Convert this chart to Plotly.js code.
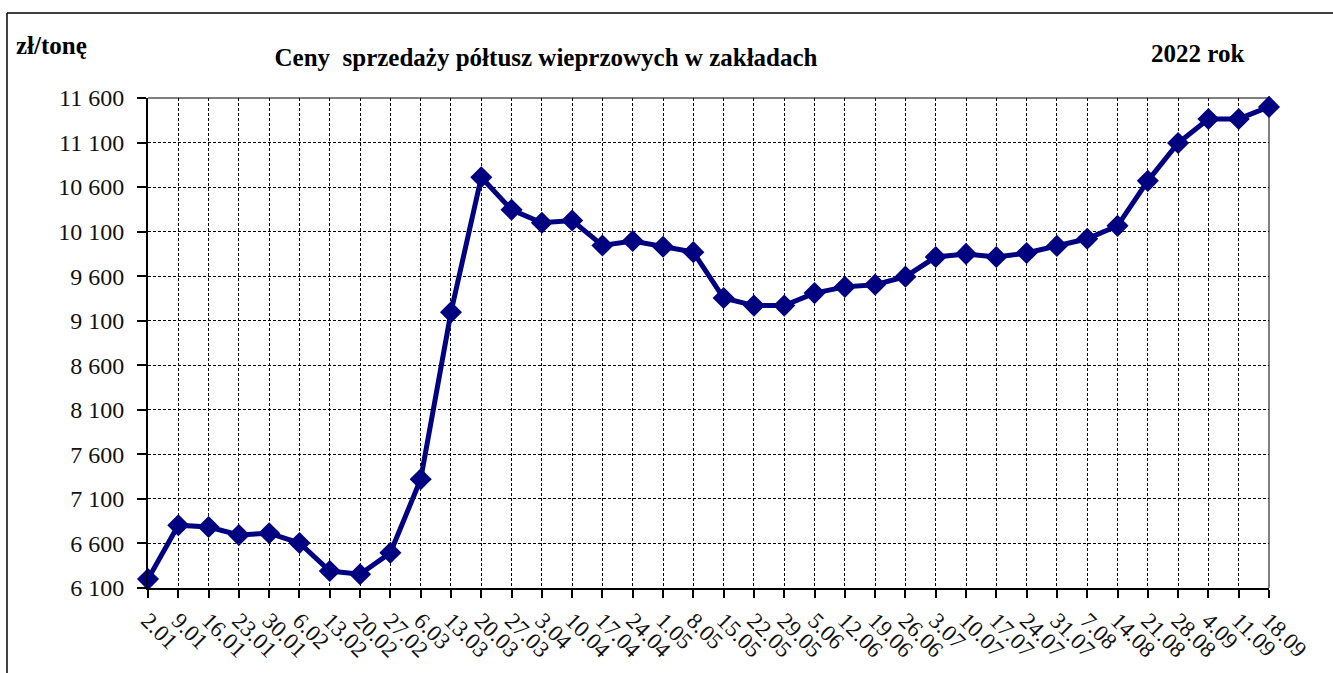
<!DOCTYPE html>
<html>
<head>
<meta charset="utf-8">
<script src="https://cdn.plot.ly/plotly-3.0.1.min.js"></script>
<style>body{margin:0;padding:0;background:#fff;}#chart{width:1333px;height:673px;}</style>
</head>
<body>
<div id="chart"></div>
<script>
const dates = ["2.01","9.01","16.01","23.01","30.01","6.02","13.02","20.02","27.02","6.03","13.03","20.03","27.03","3.04","10.04","17.04","24.04","1.05","8.05","15.05","22.05","29.05","5.06","12.06","19.06","26.06","3.07","10.07","17.07","24.07","31.07","7.08","14.08","21.08","28.08","4.09","11.09","18.09"];
const prices = [6200,6805,6785,6695,6715,6605,6290,6255,6495,7320,9195,10710,10345,10200,10225,9945,9995,9930,9870,9355,9270,9270,9410,9480,9505,9595,9815,9850,9815,9860,9940,10020,10165,10670,11095,11365,11365,11500];
const yTicks = [6100,6600,7100,7600,8100,8600,9100,9600,10100,10600,11100,11600];

const serif = "'Times New Roman', 'Liberation Serif', serif";
const trace = {
  x: dates, y: prices, type: 'scatter', mode: 'lines+markers',
  line: {color: '#000080', width: 5},
  marker: {symbol: 'diamond', size: 17, color: '#000080'},
  cliponaxis: false, hoverinfo: 'skip'
};
const layout = {
  width: 1333, height: 673,
  margin: {l: 148, r: 64, t: 98, b: 85},
  paper_bgcolor: '#fff', plot_bgcolor: '#fff',
  separators: ', ',
  showlegend: false,
  font: {family: serif, color: '#000', size: 22},
  title: {text: '<b>Ceny  sprzedaży półtusz wieprzowych w zakładach</b>', font: {family: serif, size: 25, color: '#000'}, x: 546/1333, xref: 'container', xanchor: 'center', y: 1 - 57/673, yref: 'container', yanchor: 'middle'},
  xaxis: {
    type: 'category', range: [0, dates.length - 1],
    tickangle: 45, tickfont: {family: serif, size: 23, color: '#111'},
    showgrid: true, gridcolor: '#000', gridwidth: 1, griddash: '3px,2px',
    showline: true, linecolor: '#000', linewidth: 2,
    ticks: 'outside', ticklen: 8, tickwidth: 2, tickcolor: '#000',
    zeroline: false, fixedrange: true
  },
  yaxis: {
    range: [6100, 11600], tickvals: yTicks, tickformat: ',d',
    tickfont: {family: serif, size: 24, color: '#111'},
    showgrid: true, gridcolor: '#000', gridwidth: 1, griddash: '3px,2px',
    showline: true, linecolor: '#000', linewidth: 2,
    ticks: 'outside', ticklen: 9, tickwidth: 2, tickcolor: '#000',
    ticklabelstandoff: 8,
    zeroline: false, fixedrange: true
  },
  shapes: [
    {type: 'line', xref: 'paper', yref: 'paper', x0: 0, x1: 1, y0: 1, y1: 1, line: {color: '#808080', width: 2}, layer: 'below'},
    {type: 'line', xref: 'paper', yref: 'paper', x0: 1, x1: 1, y0: 0, y1: 1, line: {color: '#808080', width: 2}, layer: 'below'},
    {type: 'line', xref: 'paper', yref: 'paper', x0: (7-148)/1121, x1: (7-148)/1121, y0: -85/490, y1: (588-13)/490, line: {color: '#000', width: 1.5}},
    {type: 'line', xref: 'paper', yref: 'paper', x0: (7-148)/1121, x1: (1333-148)/1121, y0: (588-13)/490, y1: (588-13)/490, line: {color: '#000', width: 1.5}}
  ],
  annotations: [
    {text: '<b>zł/tonę</b>', xref: 'paper', yref: 'paper', x: (14-148)/1121, y: (588-45)/490, xanchor: 'left', yanchor: 'middle', showarrow: false, font: {family: serif, size: 25, color: '#000'}},
    {text: '<b>2022 rok</b>', xref: 'paper', yref: 'paper', x: (1197-148)/1121, y: (588-53)/490, xanchor: 'center', yanchor: 'middle', showarrow: false, font: {family: serif, size: 25, color: '#000'}}
  ]
};
Plotly.newPlot('chart', [trace], layout, {displayModeBar: false, staticPlot: true});
</script>
</body>
</html>
